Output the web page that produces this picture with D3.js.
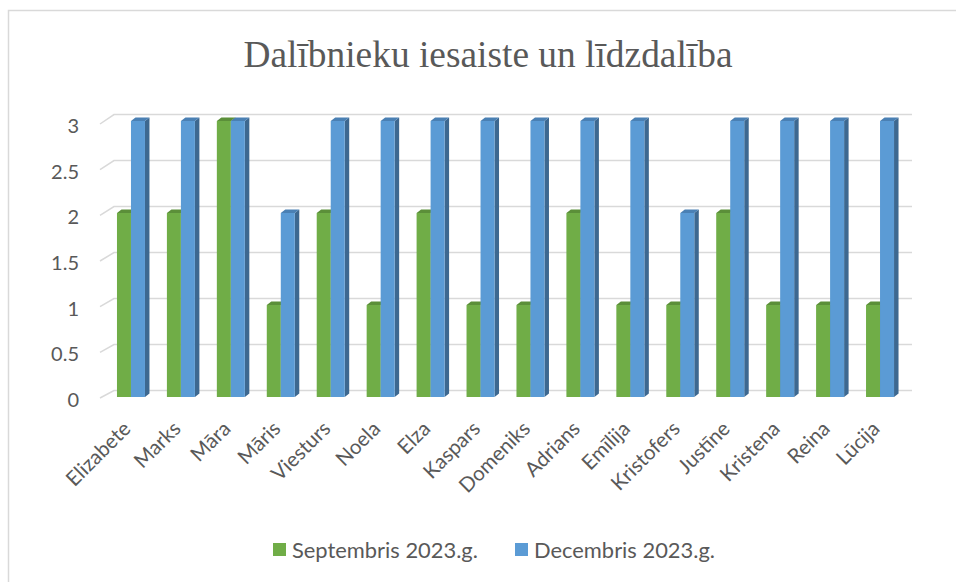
<!DOCTYPE html>
<html>
<head>
<meta charset="utf-8">
<script src="https://cdn.jsdelivr.net/npm/d3@7"></script>
<style>
    body { margin: 0; background: #fff; }
    svg { display: block; }
</style>
</head>
<body>
<svg id="chart" width="956" height="582"></svg>
<script>
// data
let names = ["Elizabete", "Marks", "Māra", "Māris", "Viesturs", "Noela", "Elza", "Kaspars",
    "Domeniks", "Adrians", "Emīlija", "Kristofers", "Justīne", "Kristena", "Reina", "Lūcija"];
let september = [2, 2, 3, 1, 2, 1, 2, 1, 1, 2, 1, 1, 2, 1, 1, 1];
let december = [3, 3, 3, 2, 3, 3, 3, 3, 3, 3, 3, 2, 3, 3, 3, 3];
let seriesNames = ["Septembris 2023.g.", "Decembris 2023.g."];
let yTicks = [0, 0.5, 1, 1.5, 2, 2.5, 3];

let svg = d3.select("#chart");
let labelFont = "Lato, 'Open Sans', sans-serif";

// chart frame (runs off the right and bottom edge)
svg.append("rect")
    .attr("x", 8.5).attr("y", 10.5)
    .attr("width", 980).attr("height", 600)
    .attr("fill", "#fff")
    .attr("stroke", "#d9d9d9")
    .attr("stroke-width", 1.5);

// title
svg.append("text")
    .attr("x", 488).attr("y", 67)
    .attr("text-anchor", "middle")
    .attr("font-family", "'Liberation Serif', 'Times New Roman', serif")
    .attr("font-size", 37.4)
    .attr("fill", "#595959")
    .text("Dalībnieku iesaiste un līdzdalība");

// scales: front edge of the wall, back wall, and the bars' front face
let x = d3.scaleBand().domain(names).range([106, 905]);
let yFront = d3.scaleLinear().domain([0, 3]).range([398, 124]);
let yBack = d3.scaleLinear().domain([0, 3]).range([390.5, 114.6]);
let yBar = d3.scaleLinear().domain([0, 3]).range([397, 121]);

// gridlines with the little 3d diagonal on the left
let grid = svg.append("g");
yTicks.forEach((t) => {
    grid.append("polyline")
        .attr("points", `100,${yFront(t)} 114,${yBack(t)} 912,${yBack(t)}`)
        .attr("fill", "none")
        .attr("stroke", "#d9d9d9")
        .attr("stroke-width", 1.5);
    grid.append("text")
        .attr("x", 79).attr("y", yFront(t) + 2)
        .attr("dy", "0.35em")
        .attr("text-anchor", "end")
        .attr("font-family", labelFont)
        .attr("font-size", 20)
        .attr("fill", "#595959")
        .text(t);
});

// 3d bar: front rect, top face and right side face
let barW = 14;
let depthX = 4.5;
let depthY = 3.5;
function drawBar(x0, value, colors) {
    let yt = yBar(value);
    let yb = yBar(0);
    let g = svg.append("g");
    g.append("polygon")
        .attr("points", `${x0 + barW},${yt} ${x0 + barW + depthX},${yt - depthY} ${x0 + barW + depthX},${yb - depthY} ${x0 + barW},${yb}`)
        .attr("fill", colors.side);
    g.append("polygon")
        .attr("points", `${x0},${yt} ${x0 + depthX},${yt - depthY} ${x0 + barW + depthX},${yt - depthY} ${x0 + barW},${yt}`)
        .attr("fill", colors.top);
    g.append("rect")
        .attr("x", x0).attr("y", yt)
        .attr("width", barW).attr("height", yb - yt)
        .attr("fill", colors.front);
}

let green = { front: "#70ad47", top: "#5b8f39", side: "#4e7d30" };
let blue = { front: "#5b9bd5", top: "#4a80b4", side: "#3d6890" };

names.forEach((name, i) => {
    let c = x(name) + x.bandwidth() / 2;
    drawBar(c - barW, september[i], green);
    drawBar(c, december[i], blue);

    // rotated category label
    svg.append("text")
        .attr("transform", `translate(${c + 1},${430}) rotate(-45)`)
        .attr("text-anchor", "end")
        .attr("font-family", labelFont)
        .attr("font-size", 20.5)
        .attr("fill", "#595959")
        .text(name);
});

// legend
let legendX = [273, 515];
let legendColors = [green.front, blue.front];
seriesNames.forEach((s, i) => {
    svg.append("rect")
        .attr("x", legendX[i]).attr("y", 543)
        .attr("width", 13).attr("height", 13)
        .attr("fill", legendColors[i]);
    svg.append("text")
        .attr("x", legendX[i] + 19).attr("y", 550)
        .attr("dy", "0.35em")
        .attr("font-family", labelFont)
        .attr("font-size", 21.9)
        .attr("fill", "#595959")
        .text(s);
});
</script>
</body>
</html>
